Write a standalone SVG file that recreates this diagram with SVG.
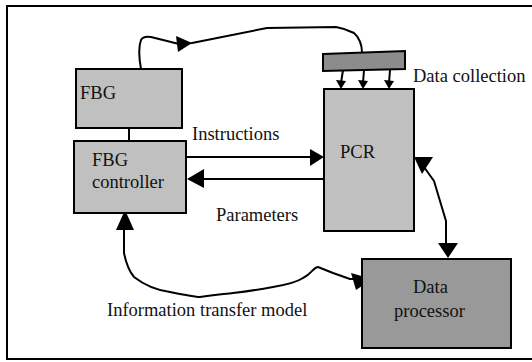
<svg xmlns="http://www.w3.org/2000/svg" width="532" height="362" viewBox="0 0 532 362">
<style>
.box{stroke:#000;stroke-width:2}
.light{fill:#c0c0c0}
.dark{fill:#999}
.bar{fill:#8c8c8c}
text{font-family:'Liberation Serif',Tinos,Times,serif;font-size:18.5px;fill:#111}
.ln{fill:none;stroke:#000;stroke-width:2;stroke-linejoin:round}
.ah{fill:#000}
</style>
<rect x="7" y="6" width="535" height="353" fill="#fff" stroke="#000" stroke-width="2"/>
<g id="connectors">
  <path class="ln" d="M141,69 C139,58 138,48 141,40 C143,36 148,36 155,38 L179,44 L192,43 L267,28 L336,27 C342,28 348,30 354,33 C359,37 362,45 362,52"/>
  <polygon class="ah" points="176,36 178,52 192,43"/>
  <path class="ln" d="M343,70 L341,83"/>
  <polygon class="ah" points="336,80 346,81 341,89"/>
  <path class="ln" d="M364,70 L363,83"/>
  <polygon class="ah" points="358,80 368,81 363,89"/>
  <path class="ln" d="M390,70 L389,83"/>
  <polygon class="ah" points="384,80 394,81 389,89"/>
  <line class="ln" x1="129" y1="128" x2="129" y2="141"/>
  <line class="ln" x1="183" y1="157" x2="312" y2="157"/>
  <polygon class="ah" points="310,149 310,166 324,157"/>
  <line class="ln" x1="324" y1="179" x2="200" y2="179"/>
  <polygon class="ah" points="204,169 204,188 187,179"/>
  <path class="ln" d="M424,167 L434,181 L446,221 L446,244"/>
  <polygon class="ah" points="414,157 433,157 422,174"/>
  <polygon class="ah" points="438,243 458,243 448,258"/>
  <path class="ln" d="M124,230 L124,253 C126,263 129,271 134,277 C143,284 155,290 170,292 C185,295 195,297 200,297 C215,295 225,294 233,293 C250,291 262,289 273,287 C285,285 297,282 303,278 C309,275 312,271 313,270 C315,268 316,267 318,267 L333,273 L350,279 L360,279"/>
  <polygon class="ah" points="116,230 134,230 125,210"/>
  <polygon class="ah" points="351,273 356,290 372,279"/>
</g>
<g id="fbg">
  <rect class="box light" x="76" y="69" width="106" height="59"/>
  <text x="80" y="99">FBG</text>
</g>
<g id="fbg-controller">
  <rect class="box light" x="74" y="141" width="112" height="72"/>
  <text x="92" y="166">FBG</text>
  <text x="92" y="188">controller</text>
</g>
<g id="data-collection">
  <polygon class="box bar" points="323,54 405,51 405,69 323,71"/>
  <text x="413" y="82">Data collection</text>
</g>
<g id="pcr">
  <rect class="box light" x="324" y="89" width="90" height="142"/>
  <text x="340" y="158">PCR</text>
</g>
<g id="data-processor">
  <rect class="box dark" x="362" y="259" width="149" height="89"/>
  <text x="413" y="293">Data</text>
  <text x="394" y="317">processor</text>
</g>
<g id="labels">
  <text x="192" y="140">Instructions</text>
  <text x="216" y="221">Parameters</text>
  <text x="107" y="316">Information transfer model</text>
</g>
</svg>
